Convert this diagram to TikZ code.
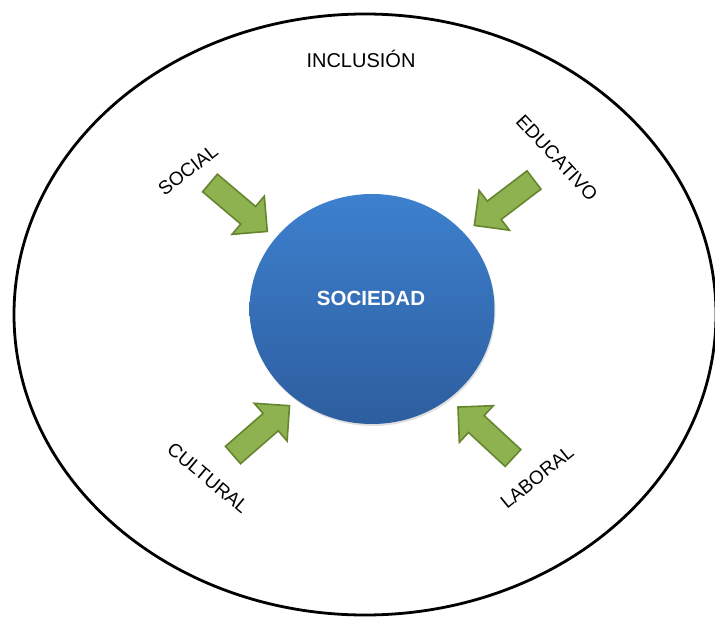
\documentclass[tikz,border=0pt]{standalone}
\usepackage{fontspec}
\setmainfont{Liberation Sans}
\usetikzlibrary{shapes.geometric,shadows}
\definecolor{blueTop}{HTML}{3D80CE}
\definecolor{blueBot}{HTML}{2D5E9F}
\definecolor{grFill}{HTML}{8EB24F}
\definecolor{grLine}{HTML}{66852F}
\tikzset{
  outerell/.style={draw=black, line width=2.8pt, ellipse, inner sep=0pt},
  socball/.style={ellipse, inner sep=0pt, top color=blueTop, bottom color=blueBot, shading angle=0,
    drop shadow={opacity=0.25, shadow xshift=1pt, shadow yshift=-2pt}},
  garrow/.style={fill=grFill, draw=grLine, line width=1.6pt, line join=miter},
  lbl/.style={font=\fontsize{19}{21}\selectfont, text=black, inner sep=0pt},
  title/.style={font=\fontsize{20}{24}\selectfont, text=black, inner sep=0pt},
  soctext/.style={font=\bfseries\fontsize{20.5}{24}\selectfont, text=white, inner sep=0pt}
}
\newcommand\greenarrowshape{(0,-11.5) -- (50,-11.5) -- (50,-25) -- (75,0) -- (50,25) -- (50,11.5) -- (0,11.5) -- cycle}
\begin{document}
\begin{tikzpicture}[x=1pt,y=-1pt]
\useasboundingbox (0,0) rectangle (715,617);
\fill[white] (0,0) rectangle (715,617);
\node[outerell, minimum width=702pt, minimum height=601pt] (outer) at (365,314.5) {};
\node[title] (incl) at (361,59) {INCLUSIÓN};
\node[socball, minimum width=245pt, minimum height=230pt] (soc) at (372,309) {};
\node[soctext] (soctxt) at (371,298) {SOCIEDAD};
% arrows
\draw[garrow, shift={(210,183)}, rotate=-40.2] \greenarrowshape;
\draw[garrow, shift={(534,180)}, rotate=217.3] \greenarrowshape;
\draw[garrow, shift={(233,455)}, rotate=41.1] \greenarrowshape;
\draw[garrow, shift={(513,458)}, rotate=137.2] \greenarrowshape;
% labels
\node[lbl, rotate=38] (social) at (188,170) {SOCIAL};
\node[lbl, rotate=-47] (educ) at (557,158) {EDUCATIVO};
\node[lbl, rotate=-40] (cult) at (208,478) {CULTURAL};
\node[lbl, rotate=39] (lab) at (537,477) {LABORAL};
\end{tikzpicture}
\end{document}
